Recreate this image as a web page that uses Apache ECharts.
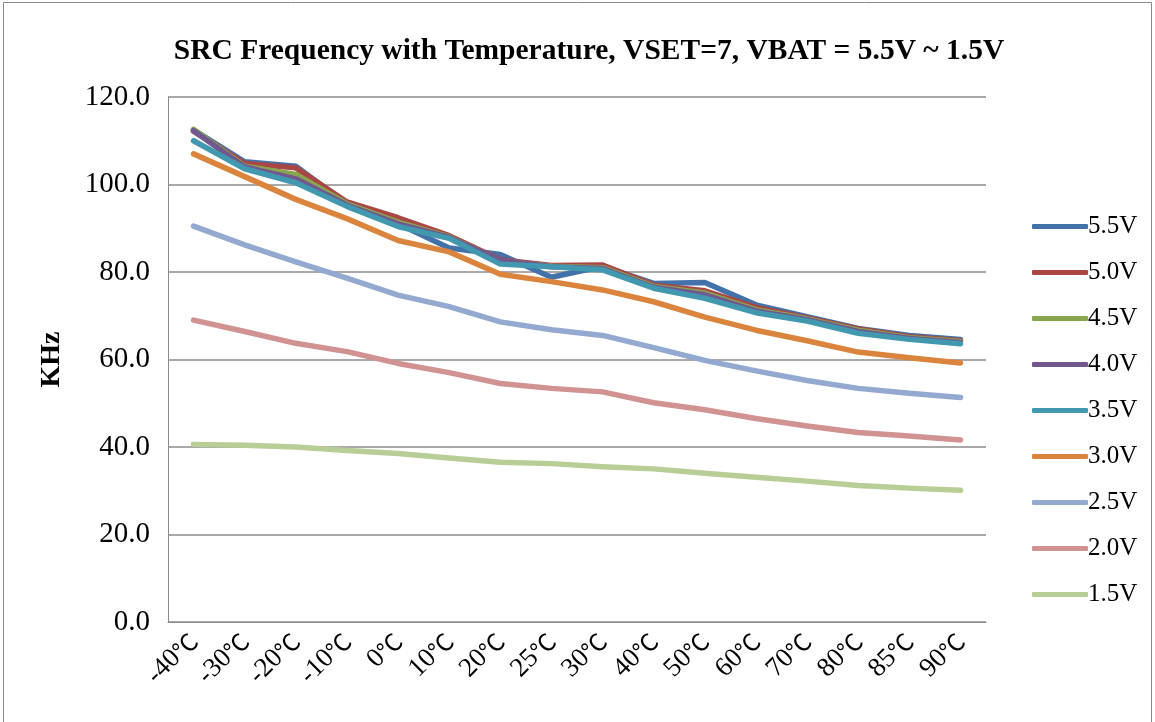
<!DOCTYPE html>
<html>
<head>
<meta charset="utf-8">
<script src="https://cdn.jsdelivr.net/npm/echarts@6/dist/echarts.min.js"></script>
<style>
  html, body { margin: 0; padding: 0; background: #ffffff; }
  #chart { width: 1155px; height: 722px; }
</style>
</head>
<body>
<div id="chart"></div>
<script>
// Temperature points (x axis)
const temperatures = ['-40℃', '-30℃', '-20℃', '-10℃', '0℃', '10℃', '20℃', '25℃',
  '30℃', '40℃', '50℃', '60℃', '70℃', '80℃', '85℃', '90℃'];

// Battery voltages (one line each)
const voltages = ['5.5V', '5.0V', '4.5V', '4.0V', '3.5V', '3.0V', '2.5V', '2.0V', '1.5V'];

// SRC frequency in KHz for each battery voltage
const freq55 = [112.5, 105.2, 104.2, 95.5, 91.0, 85.5, 84.0, 78.8, 81.3, 77.4, 77.6, 72.5, 69.8, 67.1, 65.5, 64.6];
const freq50 = [112.2, 104.8, 103.8, 96.0, 92.4, 88.3, 82.8, 81.5, 81.6, 77.0, 75.7, 71.9, 69.5, 67.0, 65.2, 64.3];
const freq45 = [112.6, 104.2, 102.3, 95.6, 91.4, 88.0, 82.6, 81.3, 81.0, 76.7, 75.2, 71.4, 69.3, 66.7, 65.0, 64.1];
const freq40 = [112.3, 104.0, 101.3, 95.3, 91.0, 87.9, 82.7, 81.2, 80.8, 76.5, 74.8, 71.1, 69.1, 66.4, 64.8, 63.9];
const freq35 = [110.0, 103.6, 100.4, 95.0, 90.4, 87.7, 81.8, 81.2, 80.5, 76.3, 74.0, 70.7, 68.8, 66.0, 64.6, 63.6];
const freq30 = [107.0, 101.8, 96.6, 92.2, 87.2, 84.6, 79.5, 77.8, 75.9, 73.2, 69.7, 66.7, 64.3, 61.7, 60.4, 59.2];
const freq25 = [90.5, 86.2, 82.3, 78.6, 74.7, 72.1, 68.6, 66.8, 65.5, 62.7, 59.8, 57.4, 55.2, 53.4, 52.3, 51.3];
const freq20 = [69.0, 66.4, 63.7, 61.8, 59.1, 57.0, 54.5, 53.4, 52.6, 50.1, 48.5, 46.5, 44.8, 43.3, 42.5, 41.6];
const freq15 = [40.6, 40.4, 40.0, 39.2, 38.5, 37.5, 36.5, 36.2, 35.5, 35.0, 34.0, 33.1, 32.2, 31.2, 30.6, 30.1];

const seriesData = [freq55, freq50, freq45, freq40, freq35, freq30, freq25, freq20, freq15];

const colors = ['#4372AA', '#AA4643', '#89A54E', '#71588F', '#4198AF', '#DB843D',
  '#93A9CF', '#D19392', '#B9CD96'];

const serif = '"Liberation Serif", "Times New Roman", serif';
const cjk = '"Noto Sans CJK SC", "Noto Sans CJK JP", sans-serif';
const gridColor = '#8c8c8c';

const chart = echarts.init(document.getElementById('chart'), null, { renderer: 'canvas' });

chart.setOption({
  backgroundColor: '#ffffff',
  animation: false,
  color: colors,
  title: {
    text: 'SRC Frequency with Temperature, VSET=7, VBAT = 5.5V ~ 1.5V',
    left: 584,
    textAlign: 'center',
    top: 31,
    textStyle: { fontFamily: serif, fontSize: 29.5, fontWeight: 'bold', color: '#000' }
  },
  graphic: [{
    type: 'rect',
    shape: { x: 3.5, y: 2.5, width: 1148, height: 740 },
    style: { fill: 'none', stroke: '#8a8a8a', lineWidth: 1 },
    silent: true
  }],
  legend: {
    orient: 'vertical',
    left: 1027,
    top: 209,
    itemWidth: 56,
    itemHeight: 5,
    itemGap: 21,
    icon: 'roundRect',
    textStyle: { fontFamily: serif, fontSize: 25, color: '#000', padding: [0, 0, 0, -5] },
    data: voltages
  },
  grid: { left: 168, right: 169, top: 97, bottom: 100, containLabel: false },
  xAxis: {
    type: 'category',
    data: temperatures,
    boundaryGap: true,
    axisLine: { show: true, lineStyle: { color: gridColor, width: 1 } },
    axisTick: { show: false },
    axisLabel: {
      rotate: 45,
      interval: 0,
      margin: 15,
      color: '#000',
      // digits in the serif face, the degree sign as a full-width glyph
      formatter: v => '{n|' + v.replace('℃', '') + '}{c|℃}',
      rich: {
        n: { fontFamily: serif, fontSize: 27, color: '#000' },
        c: { fontFamily: cjk, fontSize: 24, color: '#000' }
      }
    },
    splitLine: { show: false }
  },
  yAxis: {
    type: 'value',
    min: 0,
    max: 120,
    interval: 20,
    name: 'KHz',
    nameLocation: 'middle',
    nameGap: 102,
    nameRotate: 90,
    nameTextStyle: { fontFamily: serif, fontSize: 28, fontWeight: 'bold', color: '#000' },
    axisLine: { show: true, lineStyle: { color: gridColor, width: 1 } },
    axisTick: { show: false },
    axisLabel: {
      margin: 18,
      fontFamily: serif,
      fontSize: 29,
      color: '#000',
      formatter: v => v.toFixed(1)
    },
    splitLine: { show: true, lineStyle: { color: gridColor, width: 1.5 } }
  },
  series: voltages.map((name, i) => ({
    name: name,
    type: 'line',
    data: seriesData[i],
    showSymbol: false,
    symbol: 'none',
    smooth: false,
    lineStyle: { width: 5.5, cap: 'round', join: 'round', color: colors[i] },
    itemStyle: { color: colors[i] },
    emphasis: { disabled: true }
  }))
});
</script>
</body>
</html>
